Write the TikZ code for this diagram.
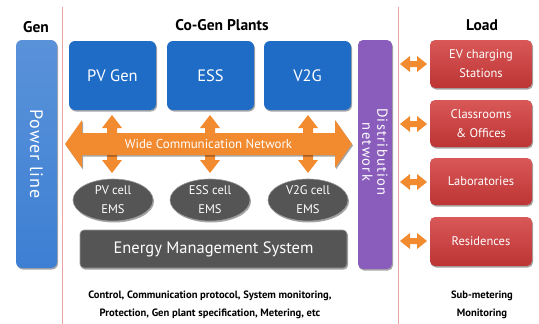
\documentclass[tikz,border=0pt]{standalone}
\usepackage{fontspec}
\setmainfont{PT Sans}
\usetikzlibrary{shapes.geometric,shadows}
\definecolor{bluebox}{HTML}{1F6CC6}
\definecolor{powerblue}{HTML}{3D7FD3}
\definecolor{purplebox}{HTML}{8A5DBC}
\definecolor{orangec}{HTML}{F28A30}
\definecolor{grayc}{HTML}{555555}
\definecolor{redc}{HTML}{D23A3A}
\definecolor{pinkline}{HTML}{E9A3A3}
\tikzset{
  shad/.style={drop shadow={shadow xshift=1pt,shadow yshift=-1.5pt,opacity=0.35,fill=black}},
  title/.style={font=\bfseries\fontsize{15.5}{18}\selectfont,text=black},
  plant/.style={shad,rounded corners=6pt,fill=bluebox,text=white,minimum width=87pt,minimum height=69pt,font=\fontsize{16.5}{18}\selectfont,inner sep=0pt},
  ems/.style={shad,ellipse,fill=grayc,draw=grayc!60!white,line width=0.6pt,text=white,minimum width=80pt,minimum height=42pt,inner sep=0pt,align=center,font=\fontsize{12.5}{19}\selectfont},
  load/.style={shad,rounded corners=5pt,top color=redc!85!white,bottom color=redc!90!black,text=white,minimum width=102pt,inner sep=0pt,align=center,font=\fontsize{12.5}{19}\selectfont},
  note/.style={font=\bfseries\fontsize{10.6}{18}\selectfont,align=center,text=black},
}
\begin{document}
\begin{tikzpicture}[x=1pt,y=-1pt]
\useasboundingbox (0,0) rectangle (539,324);
% divider lines
\draw[pinkline,line width=0.8pt] (62,7) -- (62,324);
\draw[pinkline,line width=0.8pt] (398,7) -- (398,324);
% titles
\node[title] (gent) at (36,27) {Gen};
\node[title] (cogent) at (222,25) {Co-Gen Plants};
\node[title] (loadt) at (482,25) {Load};
% power line
\node[shad,rounded corners=6pt,top color=powerblue!85!white,bottom color=powerblue,minimum width=41pt,minimum height=228pt,inner sep=0pt] (power) at (36.5,154) {};
\node[rotate=-90,text=white,font=\fontsize{18}{20}\selectfont\addfontfeatures{LetterSpace=6}] (powert) at (power.center) {Power line};
% plants
\node[plant] (pv) at (112.5,75.5) {PV Gen};
\node[plant] (ess) at (210.5,75.5) {ESS};
\node[plant] (v2g) at (307.5,75.5) {V2G};
% distribution network
\node[shad,rounded corners=5pt,fill=purplebox,minimum width=34pt,minimum height=229pt,inner sep=0pt] (dist) at (375,154.5) {};
\node[rotate=-90,text=white,align=center,font=\fontsize{14.5}{15}\selectfont\addfontfeatures{LetterSpace=9}] (distt) at (375,152) {Distribution\\network};
% small vertical arrows
\foreach \x in {112,210,308}{
  \fill[orangec] (\x,115) -- (\x+10,128) -- (\x+5,128) -- (\x+5,160) -- (\x+10,160) -- (\x,173) -- (\x-10,160) -- (\x-5,160) -- (\x-5,128) -- (\x-10,128) -- cycle;
}
% wide communication network arrow
\fill[orangec,shad] (65,144) -- (82,120) -- (82,133) -- (335,133) -- (335,120) -- (352,144) -- (335,168) -- (335,155) -- (82,155) -- (82,168) -- cycle;
\node[text=white,font=\fontsize{12.9}{14}\selectfont] (wcn) at (208.5,143.5) {Wide Communication Network};
% EMS ellipses
\node[ems] (pvems) at (113,200) {PV cell\\EMS};
\node[ems] (essems) at (210,200) {ESS cell\\EMS};
\node[ems] (v2gems) at (308,200) {V2G cell\\EMS};
% energy management system
\node[shad,rounded corners=4pt,fill=grayc,draw=grayc!60!white,line width=0.6pt,text=white,minimum width=267pt,minimum height=38pt,inner sep=0pt,font=\fontsize{16.5}{18}\selectfont] (emsys) at (213.5,249) {Energy Management System};
% notes
\node[note] (notes) at (210,305) {Control, Communication protocol, System monitoring,\\Protection, Gen plant specification, Metering, etc};
\node[note] (subm) at (482,305) {Sub-metering\\Monitoring};
% loads
\node[load,minimum height=48pt] (ev) at (481,64) {EV charging\\Stations};
\node[load,minimum height=47pt] (cls) at (481,123.5) {Classrooms\\\& Offices};
\node[load,minimum height=47pt] (lab) at (481,181.5) {Laboratories};
\node[load,minimum height=49pt] (res) at (481,241.5) {Residences};
% load arrows
\foreach \y in {64,124,182,241}{
  \fill[orangec] (400,\y) -- (410,\y-8) -- (410,\y-3) -- (417,\y-3) -- (417,\y-8) -- (427,\y) -- (417,\y+8) -- (417,\y+3) -- (410,\y+3) -- (410,\y+8) -- cycle;
}
\end{tikzpicture}
\end{document}
